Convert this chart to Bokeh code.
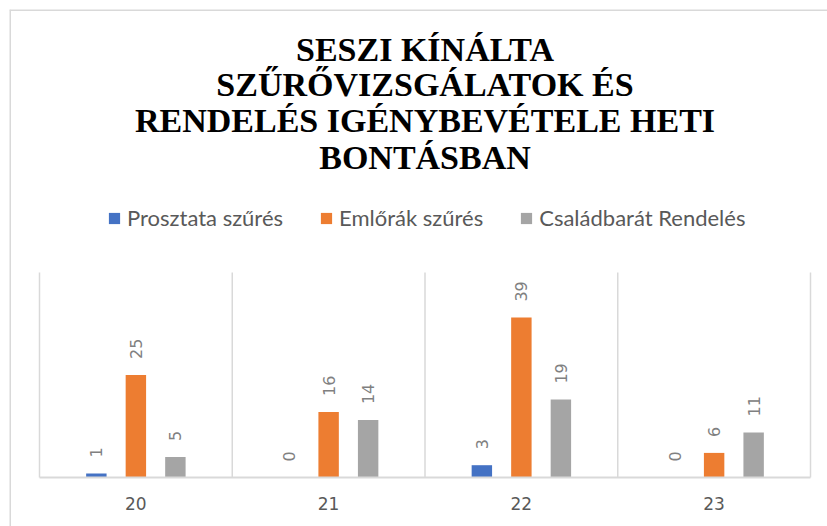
import math
from bokeh.plotting import figure
from bokeh.models import (Range1d, FixedTicker, Legend, LegendItem, Label,
                          LabelSet, ColumnDataSource, Span)
from bokeh.transform import dodge
from bokeh.core.properties import value
from bokeh.embed import file_html
from bokeh.resources import INLINE

# ---- data ----
weeks = ["20", "21", "22", "23"]
series_names = ["Prosztata szűrés", "Emlőrák szűrés", "Családbarát Rendelés"]
prosztata = [1, 0, 3, 0]
emlorak = [25, 16, 39, 6]
csaladbarat = [5, 14, 19, 11]
title_lines = ["SESZI KÍNÁLTA", "SZŰRŐVIZSGÁLATOK ÉS",
               "RENDELÉS IGÉNYBEVÉTELE HETI", "BONTÁSBAN"]
y_max = 50

# ---- layout constants (pixels, page coordinates) ----
W, H = 827, 526
frame_l, frame_t = 9, 9             # chart border (frame covers the rest)
plot_l, plot_r = 39, 810            # category area
axis_y, plot_top = 477, 272         # y=0 and y=y_max
ppx = (plot_r - plot_l) / len(weeks)
ppu = (axis_y - plot_top) / y_max
title_centers = [49, 84, 120, 157]
legend_left, legend_bottom = 107, 231

colors = ["#4472C4", "#ED7D31", "#A5A5A5"]
offsets = [-0.205, 0.0, 0.205]
bar_w = 0.106

x_start = -(plot_l - frame_l) / ppx
x_end = len(weeks) + (W - plot_r) / ppx
y_start = -(H - axis_y) / ppu
y_end = (axis_y - frame_t) / ppu

pos = [i + 0.5 for i in range(len(weeks))]
src = ColumnDataSource(dict(
    x=pos,
    s0=prosztata, s1=emlorak, s2=csaladbarat,
    l0=[str(v) for v in prosztata],
    l1=[str(v) for v in emlorak],
    l2=[str(v) for v in csaladbarat],
))

p = figure(width=W, height=H, output_backend="svg", toolbar_location=None,
           x_range=Range1d(x_start, x_end), y_range=Range1d(y_start, y_end),
           min_border_left=frame_l, min_border_right=0,
           min_border_bottom=0, min_border_top=frame_t, tools="")
p.outline_line_color = None
p.background_fill_color = "white"
p.border_fill_color = "white"

# chart border (left & top)
p.add_layout(Span(location=x_start, dimension="height",
                  line_color="#d9d9d9", line_width=3))
p.add_layout(Span(location=y_end, dimension="width",
                  line_color="#d9d9d9", line_width=3))

# category separators
bounds = list(range(len(weeks) + 1))
p.segment(x0=bounds, y0=[0] * len(bounds), x1=bounds, y1=[y_max] * len(bounds),
          line_color="#d9d9d9", line_width=1.5)

renderers = []
for k in range(3):
    r = p.vbar(x=dodge("x", offsets[k], range=p.x_range), top="s%d" % k,
               width=bar_w, source=src, color=colors[k], line_color=None)
    renderers.append(r)
    labels = LabelSet(x=dodge("x", offsets[k], range=p.x_range), y="s%d" % k,
                      text="l%d" % k, source=src, angle=math.pi / 2,
                      y_offset=16, text_align="left", text_baseline="middle",
                      text_font=value("DejaVu Sans"), text_font_size="16px",
                      text_color="#808080")
    p.add_layout(labels)

# axes / grid
p.yaxis.visible = False
p.ygrid.visible = False
p.xgrid.visible = False
xa = p.xaxis[0]
xa.fixed_location = 0
xa.bounds = (0, len(weeks))
xa.ticker = FixedTicker(ticks=pos)
xa.major_label_overrides = {pos[i]: weeks[i] for i in range(len(weeks))}
xa.axis_line_color = "#d9d9d9"
xa.axis_line_width = 2
xa.major_tick_line_color = None
xa.minor_tick_line_color = None
xa.major_tick_out = 0
xa.major_tick_in = 0
xa.major_label_standoff = 19
xa.major_label_text_font = "DejaVu Sans"
xa.major_label_text_font_size = "17px"
xa.major_label_text_color = "#595959"

# legend
legend = Legend(items=[LegendItem(label=series_names[k], renderers=[renderers[k]])
                       for k in range(3)],
                orientation="horizontal",
                location=(legend_left - frame_l, H - legend_bottom),
                glyph_width=14, glyph_height=14, label_standoff=6, spacing=36,
                label_text_font="Lato", label_text_font_size="22px",
                label_text_color="#595959", border_line_color=None,
                background_fill_alpha=0, padding=0, margin=0)
p.add_layout(legend, "center")

# title lines
for line, cy in zip(title_lines, title_centers):
    p.add_layout(Label(x=len(weeks) / 2, y=(axis_y - cy) / ppu, text=line,
                       text_align="center", text_baseline="middle",
                       text_font="Liberation Serif", text_font_style="bold",
                       text_font_size="34px", text_color="#000000"))

open("out.html", "w").write(file_html(p, INLINE))
